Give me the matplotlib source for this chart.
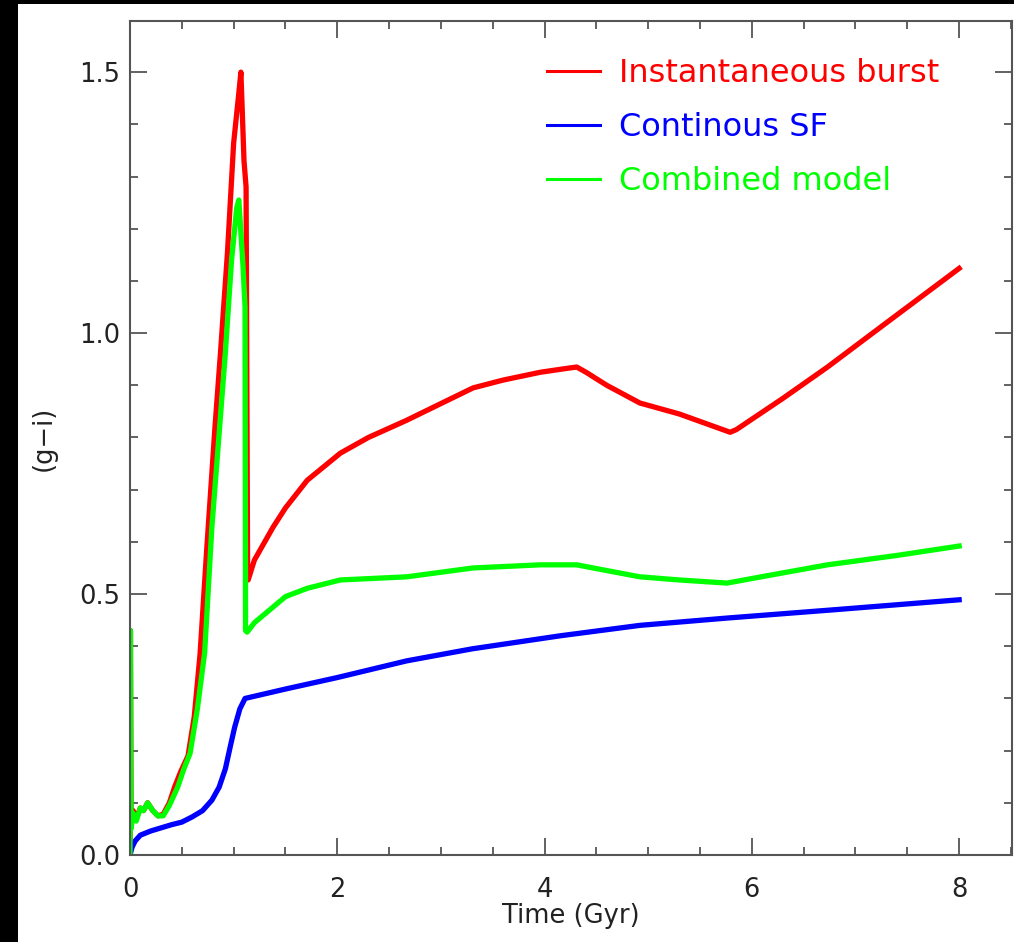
#!/usr/bin/env python3

import matplotlib
matplotlib.use('Agg')
import matplotlib.pyplot as plt
from matplotlib.patches import Rectangle
from matplotlib.lines import Line2D
from matplotlib.ticker import MultipleLocator

# (g-i) colour evolution for the three star formation histories
burst_t = [0.0, 0.004, 0.01, 0.03, 0.06, 0.10, 0.13, 0.17, 0.22, 0.27, 0.32,
           0.38, 0.43, 0.49, 0.56, 0.62, 0.676, 0.74, 0.82, 0.87, 0.94, 1.00,
           1.05, 1.07, 1.10, 1.12, 1.135, 1.14, 1.20, 1.30, 1.38, 1.50, 1.71,
           2.03, 2.30, 2.67, 3.00, 3.31, 3.60, 3.96, 4.20, 4.31, 4.40, 4.60,
           4.92, 5.30, 5.79, 5.85, 6.30, 6.73, 7.30, 8.00]
burst_gi = [0.0, 0.43, 0.06, 0.085, 0.07, 0.09, 0.085, 0.10, 0.085, 0.075, 0.078,
            0.10, 0.13, 0.16, 0.19, 0.265, 0.385, 0.585, 0.82, 0.954, 1.153, 1.364,
            1.46, 1.50, 1.33, 1.28, 0.53, 0.527, 0.565, 0.60, 0.628, 0.665, 0.718,
            0.77, 0.80, 0.833, 0.865, 0.895, 0.91, 0.925, 0.932, 0.935, 0.925, 0.90,
            0.866, 0.845, 0.81, 0.815, 0.875, 0.935, 1.02, 1.124]

csf_t = [0.0, 0.02, 0.05, 0.10, 0.20, 0.30, 0.40, 0.50, 0.60, 0.70, 0.79,
         0.86, 0.92, 0.97, 1.01, 1.06, 1.11, 1.50, 2.00, 2.67, 3.30, 4.15,
         4.92, 5.76, 6.80, 8.00]
csf_gi = [0.0, 0.015, 0.027, 0.038, 0.046, 0.052, 0.058, 0.063, 0.073, 0.085, 0.105,
          0.13, 0.165, 0.21, 0.245, 0.28, 0.30, 0.318, 0.34, 0.372, 0.395, 0.42,
          0.44, 0.454, 0.47, 0.489]

comb_t = [0.0, 0.004, 0.01, 0.03, 0.06, 0.10, 0.13, 0.17, 0.22, 0.27, 0.32,
          0.38, 0.46, 0.52, 0.58, 0.65, 0.72, 0.79, 0.87, 0.92, 0.98, 1.03,
          1.05, 1.09, 1.11, 1.115, 1.13, 1.20, 1.38, 1.50, 1.71, 2.03, 2.67,
          3.31, 3.96, 4.31, 4.60, 4.92, 5.30, 5.76, 6.20, 6.73, 7.40, 8.00]
comb_gi = [0.0, 0.43, 0.05, 0.08, 0.065, 0.09, 0.085, 0.10, 0.085, 0.075, 0.075,
           0.095, 0.13, 0.165, 0.195, 0.28, 0.387, 0.628, 0.833, 0.962, 1.14, 1.24,
           1.255, 1.13, 1.05, 0.43, 0.427, 0.445, 0.475, 0.495, 0.511, 0.527, 0.533,
           0.55, 0.556, 0.556, 0.545, 0.533, 0.527, 0.521, 0.537, 0.556, 0.574, 0.592]

labels = ['Instantaneous burst', 'Continous SF', 'Combined model']
colors = ['#ff0000', '#0000ff', '#00ff00']

W, H = 1014, 942
fig = plt.figure(figsize=(W / 100, H / 100), dpi=100, facecolor='black')
# white page with a thin black frame on the top and left
fig.add_artist(Rectangle((18 / W, 0), (W - 18) / W, (H - 4) / H,
                         transform=fig.transFigure, facecolor='white',
                         edgecolor='none', zorder=-10))

ax = fig.add_axes([130 / W, 1 - 855 / H, (1012 - 130) / W, (855 - 21) / H])
ax.set_facecolor('white')

ax.plot(burst_t, burst_gi, color=colors[0], lw=3.8, solid_joinstyle='round')
ax.plot(csf_t, csf_gi, color=colors[1], lw=3.8, solid_joinstyle='round')
ax.plot(comb_t, comb_gi, color=colors[2], lw=3.8, solid_joinstyle='round')

ax.set_xlim(0, 8.51)
ax.set_ylim(0, 1.598)
ax.xaxis.set_major_locator(MultipleLocator(2))
ax.xaxis.set_minor_locator(MultipleLocator(0.5))
ax.yaxis.set_major_locator(MultipleLocator(0.5))
ax.yaxis.set_minor_locator(MultipleLocator(0.1))
ax.yaxis.set_major_formatter(plt.FormatStrFormatter('%.1f'))

axcol = '#555555'
for s in ax.spines.values():
    s.set_color(axcol)
    s.set_linewidth(1.5)
ax.tick_params(which='both', direction='in', top=True, right=True,
               color=axcol, width=1.3, labelsize=18.5, labelcolor='#222222')
ax.tick_params(which='major', length=12)
ax.tick_params(which='minor', length=6)
ax.tick_params(axis='x', pad=16)
ax.tick_params(axis='y', pad=7)

ax.set_xlabel('Time (Gyr)', fontsize=18.5, color='#222222', labelpad=0)
ax.set_ylabel('(g\u2212i)', fontsize=18.5, color='#222222', va='center')
ax.yaxis.set_label_coords(-0.0975, 0.5)

handles = [Line2D([], [], color=c, lw=2.2) for c in colors]
leg = ax.legend(handles, labels, loc='upper left', bbox_to_anchor=(0.455, 0.975),
                frameon=False, fontsize=23, handlelength=1.66, handletextpad=0.6,
                labelspacing=0.72, borderpad=0, labelcolor=colors)

fig.savefig('out.png', dpi=100)
